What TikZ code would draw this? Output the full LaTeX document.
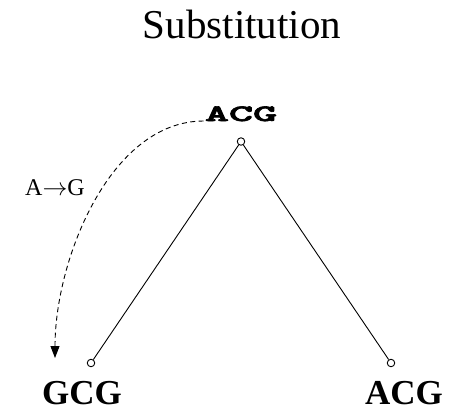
\documentclass[tikz,border=0pt]{standalone}
\usepackage{fontspec}
\setmainfont{Liberation Serif}
\newfontfamily\courb[FakeBold=2.5]{lmmonolt10-bold.otf}
\usetikzlibrary{arrows.meta}
\begin{document}
\begin{tikzpicture}[x=1pt,y=-1pt,
  lbl/.style={inner sep=0pt,anchor=base},
  dot/.style={circle,draw,fill=white,inner sep=0pt,minimum size=7.5pt,line width=0.9pt},
  branch/.style={line width=0.9pt},
  mutarrow/.style={line width=0.9pt,dash pattern=on 5pt off 3.5pt,-{Triangle[width=9pt,length=12pt]}}]
\useasboundingbox (0,0) rectangle (468,413);
\node[lbl,font=\fontsize{23.5}{23.5}\selectfont\courb] (acg) at (241,121) {\scalebox{1.95}[1]{ACG}};
\node[lbl,font=\fontsize{41}{41}\selectfont] (title) at (242,38) {Substitution};
\node[lbl,font=\fontsize{35}{35}\selectfont\bfseries] (gcg) at (82,404) {GCG};
\node[lbl,font=\fontsize{35}{35}\selectfont\bfseries] (acg2) at (404,404) {ACG};
\node[lbl,font=\fontsize{24}{24}\selectfont] (mut) at (55,195) {A$\rightarrow$G};
\node[dot] (c0) at (241,141.5) {};
\node[dot] (c1) at (91,363) {};
\node[dot] (c2) at (391,363) {};
\coordinate (tip) at (55,358);
\draw[branch] (c0) -- (c1);
\draw[branch] (c0) -- (c2);
\draw[mutarrow] ([xshift=-1pt]acg.base west) .. controls (110,121) and (55,260) .. (tip);
\end{tikzpicture}
\end{document}
